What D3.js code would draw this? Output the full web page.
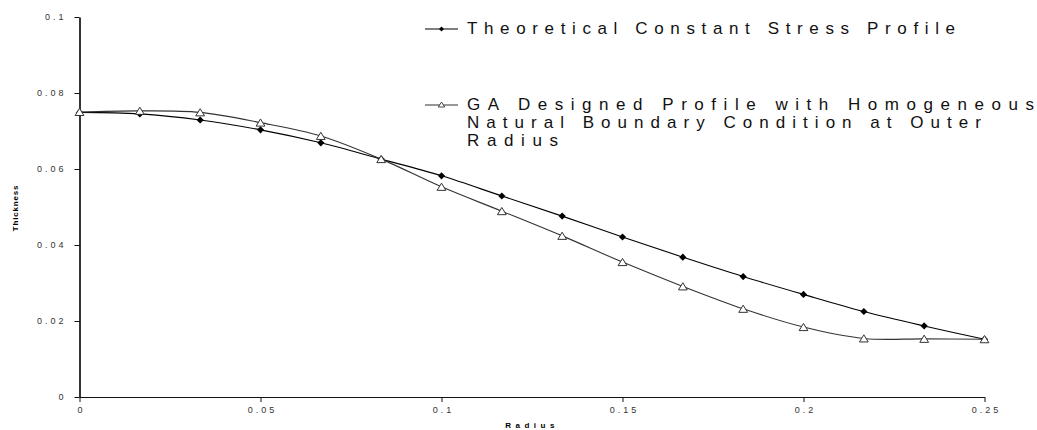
<!DOCTYPE html>
<html>
<head>
<meta charset="utf-8">
<script src="https://cdn.jsdelivr.net/npm/d3@7"></script>
<style>
  body { margin: 0; background: #fff; }
  svg { display: block; font-family: "Liberation Sans", Arial, sans-serif; }
  .tick text { fill: #333; font-size: 9px; letter-spacing: 3px; }
</style>
</head>
<body>
<div id="chart"></div>
<script>
// radius values (step 1/60)
var radius = [0, 1/60, 2/60, 3/60, 4/60, 5/60, 6/60, 7/60, 8/60, 9/60, 10/60, 11/60, 12/60, 13/60, 14/60, 15/60];
var theoretical = [0.0749, 0.0745, 0.0729, 0.0703, 0.0669, 0.0626, 0.0582, 0.0529, 0.0476, 0.0421, 0.0368, 0.0317, 0.0270, 0.0225, 0.0187, 0.0152];
var gaProfile = [0.0750, 0.0753, 0.0749, 0.0722, 0.0687, 0.0626, 0.0553, 0.0489, 0.0424, 0.0355, 0.0291, 0.0232, 0.0184, 0.0154, 0.0153, 0.0152];
var xTicks = [0, 0.05, 0.1, 0.15, 0.2, 0.25];
var yTicks = [0, 0.02, 0.04, 0.06, 0.08, 0.1];
var legend1 = ["Theoretical Constant Stress Profile"];
var legend2 = ["GA Designed Profile with Homogeneous", "Natural Boundary Condition at Outer", "Radius"];

var w = 1037;
var h = 430;

var svg = d3.select("#chart").append("svg")
  .attr("width", w)
  .attr("height", h);

var x = d3.scaleLinear().domain([0, 0.25]).range([79.5, 984.5]);
var y = d3.scaleLinear().domain([0, 0.1]).range([397, 17]);

// axes
var xAxis = svg.append("g")
  .attr("transform", "translate(0," + y(0) + ")")
  .call(d3.axisBottom(x).tickValues(xTicks).tickSize(5).tickSizeOuter(0).tickPadding(5)
    .tickFormat(function (d) { return d === 0 ? "0" : String(+d.toFixed(2)); }));
xAxis.select(".domain").attr("stroke", "#111").attr("stroke-width", 1.2);
xAxis.selectAll(".tick line").attr("stroke", "#111");
xAxis.selectAll(".tick text").attr("dx", "1.5px");

var yAxis = svg.append("g")
  .attr("transform", "translate(" + x(0) + ",0)")
  .call(d3.axisLeft(y).tickValues(yTicks).tickSize(5).tickSizeOuter(0).tickPadding(8)
    .tickFormat(function (d) { return d === 0 ? "0" : String(+d.toFixed(2)); }));
yAxis.select(".domain").attr("stroke", "#000").attr("stroke-width", 1.6);
yAxis.selectAll(".tick line").attr("stroke", "#111");
yAxis.selectAll(".tick text").style("font-family", "Liberation Sans, Arial, sans-serif");
xAxis.selectAll(".tick text").style("font-family", "Liberation Sans, Arial, sans-serif");

// axis titles
svg.append("text")
  .attr("x", (x(0) + x(0.25)) / 2)
  .attr("y", 428)
  .attr("text-anchor", "middle")
  .style("font-size", "8px")
  .style("font-weight", "bold")
  .style("letter-spacing", "4.5px")
  .text("Radius");

svg.append("text")
  .attr("transform", "translate(18," + (y(0.05) + 1) + ") rotate(-90)")
  .attr("text-anchor", "middle")
  .style("font-size", "8px")
  .style("font-weight", "bold")
  .style("letter-spacing", "0.8px")
  .text("Thickness");

// lines
var line = d3.line().curve(d3.curveCatmullRom.alpha(0.5));

function pts(vals) {
  return radius.map(function (r, i) { return [x(r), y(vals[i])]; });
}

var diamond = "M0,-3.6L3.6,0L0,3.6L-3.6,0Z";
var triangle = "M0,-4.2L4.4,3L-4.4,3Z";

svg.append("path")
  .attr("d", line(pts(theoretical)))
  .attr("fill", "none")
  .attr("stroke", "#000")
  .attr("stroke-width", 1.1);

svg.append("g").selectAll("path")
  .data(pts(theoretical))
  .enter()
  .append("path")
  .attr("transform", function (d) { return "translate(" + d[0] + "," + d[1] + ")"; })
  .attr("d", diamond)
  .attr("fill", "#000");

svg.append("path")
  .attr("d", line(pts(gaProfile)))
  .attr("fill", "none")
  .attr("stroke", "#333")
  .attr("stroke-width", 1.1);

svg.append("g").selectAll("path")
  .data(pts(gaProfile))
  .enter()
  .append("path")
  .attr("transform", function (d) { return "translate(" + d[0] + "," + (d[1] + 0.5) + ")"; })
  .attr("d", triangle)
  .attr("fill", "#fff")
  .attr("stroke", "#333")
  .attr("stroke-width", 1);

// legend
var lg = svg.append("g");
lg.append("line").attr("x1", 425).attr("x2", 458).attr("y1", 29).attr("y2", 29)
  .attr("stroke", "#000").attr("stroke-width", 1.1);
lg.append("path").attr("transform", "translate(441.5,29)").attr("d", "M0,-2.5L2.5,0L0,2.5L-2.5,0Z").attr("fill", "#000");
lg.append("text")
  .attr("x", 467).attr("y", 34)
  .style("font-size", "17px")
  .attr("fill", "#111")
  .attr("textLength", 488)
  .attr("lengthAdjust", "spacing")
  .text(legend1[0]);

lg.append("line").attr("x1", 425).attr("x2", 458).attr("y1", 105).attr("y2", 105)
  .attr("stroke", "#333").attr("stroke-width", 1.1);
lg.append("path").attr("transform", "translate(441.5,105)").attr("d", "M0,-3L3.2,2L-3.2,2Z")
  .attr("fill", "#fff").attr("stroke", "#333").attr("stroke-width", 0.9);
var legendLens = [567, 514, 91];
legend2.forEach(function (t, i) {
  lg.append("text")
    .attr("x", 467).attr("y", 109.5 + i * 18)
    .style("font-size", "17px")
    .attr("fill", "#111")
    .attr("textLength", legendLens[i])
    .attr("lengthAdjust", "spacing")
    .text(t);
});
</script>
</body>
</html>
